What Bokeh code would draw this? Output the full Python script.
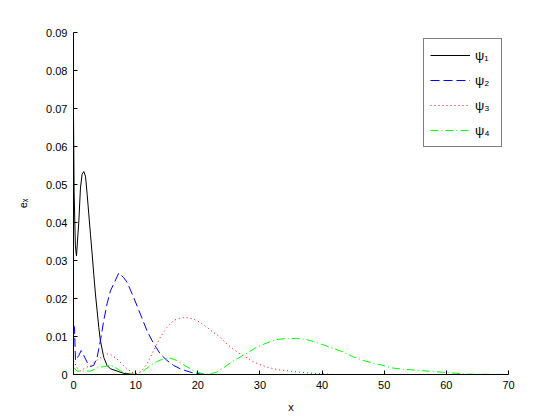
from bokeh.plotting import figure
from bokeh.models import Range1d, FixedTicker, Legend, LegendItem
from bokeh.embed import file_html
from bokeh.resources import INLINE

# psi_1
x1 = [0, 0.1, 0.3, 0.48, 0.86, 1.12, 1.39, 1.66, 1.93, 2.2, 2.46, 2.73, 3.0, 3.26, 3.53, 3.8,
      4.07, 4.33, 4.87, 5.4, 5.94, 7.0, 8.1, 10, 20, 30, 40, 50, 60, 70]
y1 = [0.0685, 0.048, 0.034, 0.0312, 0.0404, 0.0491, 0.0527, 0.0534, 0.0522, 0.0474, 0.0422,
      0.0369, 0.0317, 0.0264, 0.0212, 0.0168, 0.0124, 0.0089, 0.0045, 0.0024, 0.0015, 0.0009,
      0.0003, 0, 0, 0, 0, 0, 0, 0]

# psi_2
x2 = [0, 0.16, 0.32, 0.86, 1.23, 1.66, 2.2, 2.73, 3.26, 3.8, 4.33, 4.87, 5.4, 5.94, 6.47, 7.28,
      8.08, 8.61, 9.68, 10.76, 11.83, 12.9, 13.97, 15.04, 16.1, 17.18, 18.25, 19.3, 21, 30, 40,
      50, 60, 70]
y2 = [0.013, 0.0124, 0.0037, 0.005, 0.0063, 0.005, 0.0032, 0.0021, 0.0024, 0.0045, 0.0089,
      0.0142, 0.0186, 0.022, 0.0238, 0.0267, 0.0255, 0.0243, 0.0203, 0.0159, 0.0115, 0.0081,
      0.0054, 0.0037, 0.0024, 0.0015, 0.0009, 0.0004, 0, 0, 0, 0, 0, 0]

# psi_3
x3 = [0, 0.59, 1.12, 1.66, 2.73, 3.8, 4.87, 5.4, 5.94, 7.0, 7.8, 8.61, 9.4, 10.2, 11.0, 11.83,
      12.9, 13.97, 15.04, 16.1, 17.18, 18.25, 19.3, 20.4, 21.5, 22.5, 23.6, 24.7, 25.7, 26.8,
      27.9, 28.9, 30.0, 31.1, 32.2, 33.2, 34.8, 36.4, 38.6, 42, 50, 60, 70]
y3 = [0.0037, 0.0017, 0.001, 0.0015, 0.0024, 0.0038, 0.005, 0.0054, 0.0053, 0.0041, 0.0028,
      0.0015, 0.0006, 0.0002, 0.001, 0.0028, 0.0063, 0.0098, 0.0124, 0.0142, 0.0149, 0.015,
      0.0146, 0.0137, 0.0124, 0.0111, 0.0098, 0.008, 0.0067, 0.0054, 0.0044, 0.0034, 0.0026,
      0.002, 0.0015, 0.0012, 0.0009, 0.0006, 0.0003, 0, 0, 0, 0]

# psi_4
x4 = [0, 0.59, 1.66, 2.73, 3.8, 4.87, 5.94, 6.7, 7.5, 8.6, 10.2, 11.3, 12.4, 13.4, 14.5, 15.6,
      16.6, 17.7, 18.8, 19.8, 21.5, 23.0, 24.1, 25.2, 26.3, 27.9, 29.5, 31.1, 32.7, 34.3, 35.9,
      37.5, 38.6, 40.2, 41.8, 43.4, 45.0, 46.6, 48.2, 49.8, 51.4, 53.0, 54.6, 56.2, 57.8, 59.4,
      61.0, 63.2, 70]
y4 = [0.0019, 0.0009, 0.0009, 0.0009, 0.0017, 0.0021, 0.0024, 0.0019, 0.001, 0.0003, 0, 0.001,
      0.0024, 0.0034, 0.0041, 0.0043, 0.0037, 0.0026, 0.0015, 0.0006, 0, 0.0006, 0.0017, 0.003,
      0.0041, 0.0056, 0.0072, 0.0083, 0.0092, 0.0095, 0.0095, 0.0092, 0.0087, 0.0078, 0.0069,
      0.0059, 0.0047, 0.0037, 0.003, 0.0024, 0.0017, 0.0014, 0.0012, 0.001, 0.0008, 0.0006,
      0.0004, 0.0001, 0]

x_ticks = [0, 10, 20, 30, 40, 50, 60, 70]
y_ticks = [0, 0.01, 0.02, 0.03, 0.04, 0.05, 0.06, 0.07, 0.08, 0.09]
y_tick_labels = ["0", "0.01", "0.02", "0.03", "0.04", "0.05", "0.06", "0.07", "0.08", "0.09"]
series_labels = ["ψ₁", "ψ₂", "ψ₃", "ψ₄"]

FONT = "Liberation Sans"

p = figure(width=548, height=416, output_backend="svg", toolbar_location=None,
           x_range=Range1d(0, 70), y_range=Range1d(0, 0.09),
           min_border_left=73, min_border_right=40, min_border_top=32, min_border_bottom=42)
p.outline_line_color = None
p.xgrid.visible = False
p.ygrid.visible = False
p.background_fill_color = "white"
p.border_fill_color = "white"

r1 = p.line(x1, y1, line_color="black", line_width=1)
r2 = p.line(x2, y2, line_color="#0000ff", line_width=1, line_dash="9 4")
r3 = p.line(x3, y3, line_color="#ff0000", line_width=1, line_dash="1 3")
r4 = p.line(x4, y4, line_color="#00ff00", line_width=1, line_dash="8 3 1 3")

for ax in (p.xaxis[0], p.yaxis[0]):
    ax.axis_line_color = "black"
    ax.major_tick_line_color = "black"
    ax.major_tick_in = 4
    ax.major_tick_out = 0
    ax.minor_tick_in = 0
    ax.minor_tick_out = 0
    ax.major_label_text_font = FONT
    ax.major_label_text_font_size = "11px"
    ax.major_label_text_color = "black"
    ax.axis_label_text_font = FONT
    ax.axis_label_text_font_size = "11px"
    ax.axis_label_text_font_style = "normal"
    ax.axis_label_text_color = "black"
    ax.major_label_standoff = 6

p.xaxis.ticker = FixedTicker(ticks=x_ticks)
p.yaxis.ticker = FixedTicker(ticks=y_ticks)
p.yaxis.major_label_overrides = {t: l for t, l in zip(y_ticks, y_tick_labels)}
p.xaxis.axis_label = "x"
p.xaxis.axis_label_standoff = 9
p.yaxis.axis_label = "eₓ"
p.yaxis.axis_label_standoff = 14

legend = Legend(items=[LegendItem(label=series_labels[i], renderers=[r])
                       for i, r in enumerate([r1, r2, r3, r4])],
                location="top_right")
legend.border_line_color = "black"
legend.border_line_width = 1
legend.background_fill_color = "white"
legend.background_fill_alpha = 1
legend.label_text_font = FONT
legend.label_text_font_size = "13px"
legend.label_text_color = "black"
legend.glyph_width = 40
legend.glyph_height = 20
legend.label_height = 20
legend.label_standoff = 5
legend.spacing = 5
legend.padding = 6
legend.margin = 6
p.add_layout(legend)

open("out.html", "w").write(file_html(p, INLINE))
